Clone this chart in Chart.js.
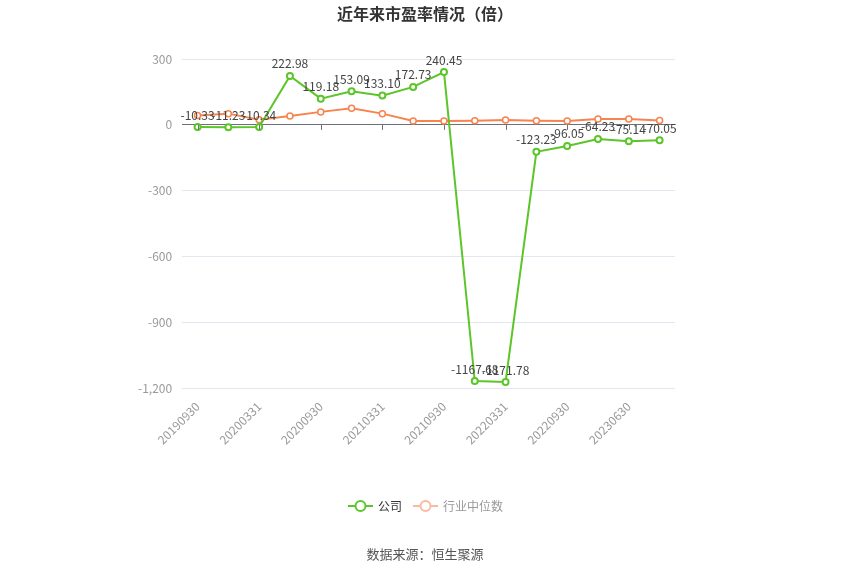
<!DOCTYPE html>
<html>
<head>
<meta charset="utf-8">
<script src="https://cdn.jsdelivr.net/npm/chart.js@4"></script>
<style>
  html, body { margin: 0; padding: 0; background: #fff; }
  #wrap { width: 850px; height: 575px; }
</style>
</head>
<body>
<div id="wrap"><canvas id="peChart"></canvas></div>
<script>
const periods = ['20190930', '20191231', '20200331', '20200630', '20200930', '20201231',
  '20210331', '20210630', '20210930', '20211231', '20220331', '20220630',
  '20220930', '20221231', '20230630', '20230930'];
const companyPE = [-10.33, -11.23, -10.34, 222.98, 119.18, 153.09, 133.10, 172.73,
  240.45, -1167.68, -1171.78, -123.23, -96.05, -64.23, -75.14, -70.05];
const industryPE = [42, 51, 23, 40, 59, 76, 51, 18, 18, 19, 22, 19, 17, 26, 26, 20];
const yTicks = [300, 0, -300, -600, -900, -1200];

const GREEN = '#5cc52a';
const ORANGE = '#f7834f';
const FONT = '"Noto Sans CJK SC", "Noto Sans", sans-serif';

// title, legend, source text, value labels and the small ticks on the zero line
const extras = {
  id: 'extras',
  afterDatasetsDraw(chart) {
    const ctx = chart.ctx;
    const x = chart.scales.x, y = chart.scales.y;
    const y0 = y.getPixelForValue(0);
    ctx.save();
    ctx.strokeStyle = '#6e7079';
    ctx.lineWidth = 1;
    periods.forEach((p, i) => {
      if (i % 2) return;
      const px = Math.round(x.getPixelForValue(i)) + 0.5;
      ctx.beginPath();
      ctx.moveTo(px, y0);
      ctx.lineTo(px, y0 + 5);
      ctx.stroke();
    });
    const meta = chart.getDatasetMeta(0);
    ctx.font = '12px ' + FONT;
    ctx.fillStyle = '#444';
    ctx.textAlign = 'center';
    ctx.textBaseline = 'bottom';
    meta.data.forEach((pt, i) => {
      ctx.fillText(companyPE[i].toFixed(2), pt.x, pt.y - 6);
    });
    ctx.restore();
  },
  afterDraw(chart) {
    const ctx = chart.ctx;
    ctx.save();
    ctx.fillStyle = '#333';
    ctx.textAlign = 'center';
    ctx.textBaseline = 'middle';
    ctx.font = 'bold 16px ' + FONT;
    ctx.fillText('近年来市盈率情况（倍）', 425, 14);

    const items = [
      { text: '公司', color: GREEN, textColor: '#333', x: 348 },
      { text: '行业中位数', color: '#f9b9a3', textColor: '#999', x: 413 }
    ];
    ctx.font = '12px ' + FONT;
    ctx.textAlign = 'left';
    items.forEach(it => {
      const ly = 506;
      ctx.strokeStyle = it.color;
      ctx.lineWidth = 2;
      ctx.beginPath();
      ctx.moveTo(it.x, ly);
      ctx.lineTo(it.x + 25, ly);
      ctx.stroke();
      ctx.fillStyle = '#fff';
      ctx.beginPath();
      ctx.arc(it.x + 12.5, ly, 5, 0, Math.PI * 2);
      ctx.fill();
      ctx.stroke();
      ctx.fillStyle = it.textColor;
      ctx.fillText(it.text, it.x + 30, ly);
    });

    ctx.fillStyle = '#555';
    ctx.textAlign = 'center';
    ctx.font = '13px ' + FONT;
    ctx.fillText('数据来源：恒生聚源', 425, 554);
    ctx.restore();
  }
};

const ctx = document.getElementById('peChart').getContext('2d');
const peChart = new Chart(ctx, {
  type: 'line',
  data: {
    labels: periods,
    datasets: [
      {
        label: '公司',
        data: companyPE,
        borderColor: GREEN,
        backgroundColor: '#fff',
        borderWidth: 2,
        pointRadius: 3,
        pointBorderWidth: 2,
        pointBackgroundColor: '#fff',
        tension: 0
      },
      {
        label: '行业中位数',
        data: industryPE,
        borderColor: ORANGE,
        backgroundColor: '#fff',
        borderWidth: 2,
        pointRadius: 3,
        pointBorderWidth: 1.5,
        pointBackgroundColor: '#fff',
        tension: 0
      }
    ]
  },
  options: {
    responsive: true,
    maintainAspectRatio: false,
    animation: false,
    layout: { padding: { left: 128, right: 175, top: 59, bottom: 125 } },
    plugins: {
      legend: { display: false },
      tooltip: { enabled: false },
      title: { display: false }
    },
    scales: {
      x: {
        offset: true,
        grid: { display: false },
        border: { display: false },
        ticks: {
          autoSkip: false,
          minRotation: 45,
          maxRotation: 45,
          color: '#999',
          font: { size: 12, family: FONT },
          callback: (v, i) => (i % 2 ? '' : periods[i])
        }
      },
      y: {
        min: -1200,
        max: 300,
        afterBuildTicks: axis => { axis.ticks = yTicks.map(v => ({ value: v })); },
        border: { display: false },
        grid: {
          drawTicks: false,
          color: c => (c.tick && c.tick.value === 0 ? '#6e7079' : '#e3e7f0'),
          lineWidth: 1
        },
        ticks: {
          padding: 10,
          color: '#999',
          font: { size: 12, family: FONT }
        }
      }
    }
  },
  plugins: [extras]
});
</script>
</body>
</html>
